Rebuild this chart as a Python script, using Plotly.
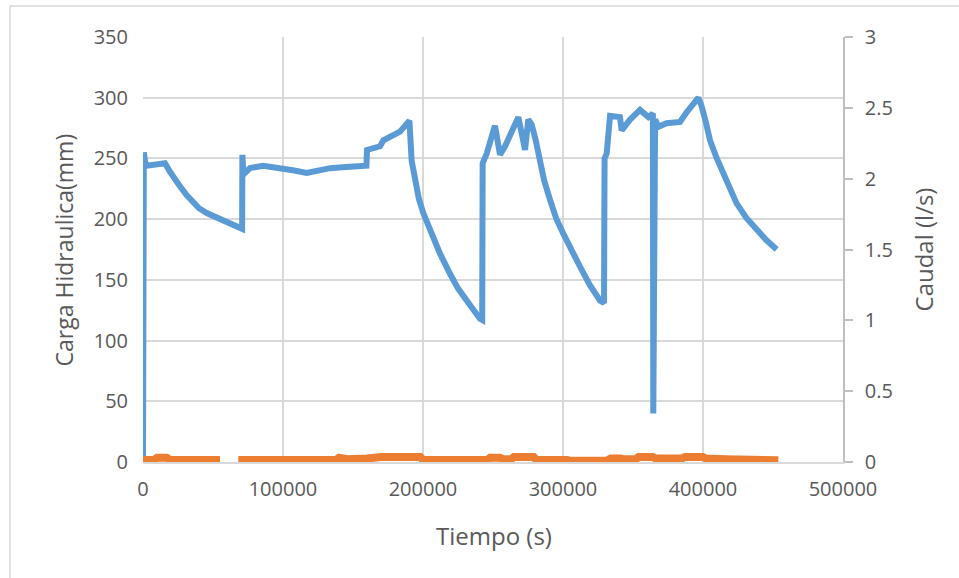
import plotly.graph_objects as go

# Carga hidráulica (mm) versus tiempo (s)
tiempo_carga = [0, 600, 1400, 2600, 9800, 15700, 19300, 22000, 26400, 31000, 35900, 40000,
                45500, 51000, 57400, 63000, 69300,
                70800, 71000, 71600, 72900, 76400, 85900, 93100, 100200, 108000, 116900,
                125000, 133600, 145000, 157400, 159600, 160000, 169300, 171700, 183600,
                189500, 190300, 191900, 194300, 197000, 200200, 203500, 207400, 212000,
                219300, 225000, 231200, 236000, 240700, 242300, 242600, 245500,
                251400, 255000, 258600, 268100, 272900, 275200, 277600, 280500, 283600,
                286500, 290700, 295000, 300200, 306000, 312100, 319000, 326400, 329300,
                329700, 331200, 333600, 340700, 341900, 347900, 355000, 361000, 364200,
                364500, 364800, 365800, 368100, 374000, 383600, 388300, 396700, 399000,
                402000, 405000, 409500, 414500, 419000, 424000, 431000, 438300, 445000,
                452600]
carga = [2, 255, 248, 244, 245, 246, 239, 234, 227, 220, 214, 209,
         205, 202, 199, 196, 193,
         192, 253, 240, 238, 242, 244, 243, 242, 240, 238,
         240, 242, 243, 243, 244, 257, 260, 265, 272,
         280, 281, 248, 230, 217, 205, 195, 183, 172,
         155, 143, 133, 125, 118, 117, 246, 254,
         277, 253, 260, 284, 257, 282, 278, 265, 249,
         232, 216, 201, 188, 174, 161, 146, 133, 131,
         250, 254, 285, 284, 273, 282, 290, 284, 287,
         40, 153, 282, 276, 279, 280, 288, 300, 293,
         280, 265, 251, 238, 225, 213, 201, 191, 183,
         175]

# Caudal (l/s) versus tiempo (s); None marks the interruption in the record
tiempo_caudal = [0, 8000, 10000, 17000, 19000, 55000, None,
                 68100, 138000, 140000, 146000, 160000, 170000, 198000, 200000,
                 246000, 248000, 255000, 257000, 263000, 265000, 279000, 281000,
                 303000, 305000, 331000, 334000, 341000, 343000, 352000, 354000,
                 364000, 366000, 385000, 387000, 400000, 402000, 416000, 420000,
                 422000, 453800]
caudal = [0.015, 0.015, 0.03, 0.03, 0.015, 0.015, None,
          0.015, 0.015, 0.03, 0.02, 0.025, 0.035, 0.035, 0.015,
          0.015, 0.03, 0.03, 0.02, 0.02, 0.035, 0.035, 0.015,
          0.015, 0.008, 0.008, 0.025, 0.025, 0.02, 0.02, 0.035,
          0.035, 0.025, 0.025, 0.035, 0.035, 0.025, 0.02, 0.02,
          0.012, 0.012]

x_ticks = [0, 100000, 200000, 300000, 400000, 500000]
y_ticks = [0, 50, 100, 150, 200, 250, 300, 350]
y2_ticks = [0, 0.5, 1, 1.5, 2, 2.5, 3]

AZUL = "#5B9BD5"
NARANJA = "#ED7D31"
REJILLA = "#D9D9D9"
TEXTO = "#595959"
FUENTE = "Open Sans"

fig = go.Figure()
fig.add_trace(go.Scatter(x=tiempo_carga, y=carga, mode="lines", name="Carga Hidraulica",
                         line=dict(color=AZUL, width=6), yaxis="y"))
fig.add_trace(go.Scatter(x=tiempo_caudal, y=caudal, mode="lines", name="Caudal",
                         line=dict(color=NARANJA, width=8), yaxis="y2",
                         connectgaps=False))

fig.update_layout(
    width=959, height=578, autosize=False,
    margin=dict(l=143, r=116, t=37, b=116),
    paper_bgcolor="white", plot_bgcolor="white",
    showlegend=False,
    font=dict(family=FUENTE, color=TEXTO, size=20),
    xaxis=dict(range=[0, 500000], tickvals=x_ticks,
               ticktext=[str(v) for v in x_ticks],
               showgrid=True, gridcolor=REJILLA, gridwidth=1.5,
               zeroline=False, showline=True, linecolor=REJILLA, linewidth=1.5,
               ticks="", ticklabelstandoff=8, layer="below traces",
               tickfont=dict(size=20, color=TEXTO)),
    yaxis=dict(range=[0, 350], tickvals=y_ticks,
               showgrid=True, gridcolor=REJILLA, gridwidth=1.5,
               zeroline=False, showline=False, ticks="",
               ticklabelstandoff=14, layer="below traces",
               tickfont=dict(size=20, color=TEXTO)),
    yaxis2=dict(range=[0, 3], tickvals=y2_ticks,
                ticktext=["0", "0.5", "1", "1.5", "2", "2.5", "3"],
                overlaying="y", side="right", showgrid=False, zeroline=False,
                showline=True, linecolor="#BFBFBF", linewidth=1.5,
                ticks="outside", ticklen=8, tickcolor="#BFBFBF", tickwidth=1.5,
                ticklabelstandoff=8, layer="below traces",
                tickfont=dict(size=20, color=TEXTO)),
    annotations=[
        dict(text="Tiempo (s)", xref="paper", yref="paper", x=0.501, y=-0.172,
             xanchor="center", yanchor="middle", showarrow=False,
             font=dict(size=24, color=TEXTO, family=FUENTE)),
        dict(text="Carga Hidraulica(mm)", xref="paper", yref="paper", x=-0.113, y=0.5,
             xanchor="center", yanchor="middle", textangle=-90, showarrow=False,
             font=dict(size=23, color=TEXTO, family=FUENTE)),
        dict(text="Caudal (l/s)", xref="paper", yref="paper", x=1.1157, y=0.5,
             xanchor="center", yanchor="middle", textangle=-90, showarrow=False,
             font=dict(size=24, color=TEXTO, family=FUENTE)),
    ],
    shapes=[
        dict(type="rect", xref="paper", yref="paper", x0=-0.19, x1=1.4, y0=-0.5, y1=1.073,
             line=dict(color=REJILLA, width=1.5), fillcolor="rgba(0,0,0,0)", layer="below"),
    ],
)

fig.write_html("out.html")
